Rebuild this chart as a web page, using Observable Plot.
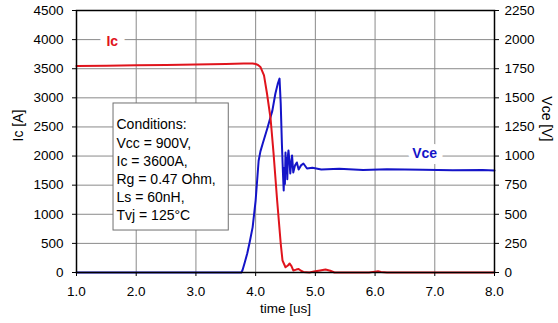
<!DOCTYPE html>
<html>
<head>
<meta charset="utf-8">
<script src="https://cdn.jsdelivr.net/npm/d3@7"></script>
<script src="https://cdn.jsdelivr.net/npm/@observablehq/plot@0.6"></script>
<style>
  html, body { margin: 0; padding: 0; background: white; }
</style>
</head>
<body>
<div id="chart"></div>
<script>
// ---- data ----
const xTicks = [1, 2, 3, 4, 5, 6, 7, 8];
const yTicksIc = [0, 500, 1000, 1500, 2000, 2500, 3000, 3500, 4000, 4500];
const yTicksVce = [0, 250, 500, 750, 1000, 1250, 1500, 1750, 2000, 2250];

const icTime = [1.0,1.5,2.0,2.5,3.0,3.5,3.8,3.95,4.0,4.04,4.08,4.14,4.19,4.25,4.30,4.36,4.42,4.45,4.50,4.54,4.57,4.60,4.63,4.68,4.72,4.76,4.80,4.9,5.0,5.08,5.17,5.25,5.32,5.5,5.9,6.0,6.05,6.1,6.2,8.0];
const icValue = [3545,3552,3558,3565,3572,3580,3590,3588,3580,3565,3530,3385,3075,2645,2045,1237,498,206,90,120,155,110,35,50,60,30,10,0,20,35,50,30,0,0,0,15,20,10,0,0];

const vceTime = [1.0,3.76,3.78,3.82,3.86,3.9,3.95,4.0,4.05,4.08,4.12,4.2,4.28,4.33,4.37,4.40,4.42,4.44,4.46,4.47,4.48,4.49,4.50,4.51,4.52,4.53,4.54,4.55,4.57,4.58,4.60,4.61,4.63,4.66,4.69,4.72,4.76,4.80,4.86,4.95,5.1,5.4,5.8,6.2,6.8,7.3,7.8,8.0];
const vceValue = [0,0,20,90,165,260,390,620,960,1040,1110,1245,1390,1535,1620,1665,1450,1100,820,704,900,760,1030,860,980,800,1000,1048,930,850,960,1005,859,920,945,885,920,936,893,900,885,892,880,886,882,878,880,876];

const conditionsText = ["Conditions:", "Vcc = 900V,", "Ic = 3600A,", "Rg = 0.47 Ohm,", "Ls = 60nH,", "Tvj = 125°C"];
const boxExtent = {x1: 1.62, x2: 3.55, y1: 721, y2: 2903};

const icData = icTime.map((t, i) => ({t, v: icValue[i]}));
const vceData = vceTime.map((t, i) => ({t, v: vceValue[i]}));

const red = "#e0141c";
const blue = "#1414c8";
const grid = "#8a8a8a";

const chart = Plot.plot({
  width: 558,
  height: 323,
  marginLeft: 76,
  marginRight: 64,
  marginTop: 10,
  marginBottom: 51,
  style: {fontFamily: "'Liberation Sans', Arial, sans-serif", fontSize: "14px", background: "white", color: "black", overflow: "visible"},
  x: {domain: [1, 8]},
  y: {domain: [0, 4500]},
  marks: [
    Plot.gridX(xTicks, {stroke: grid, strokeOpacity: 1}),
    Plot.gridY(yTicksIc, {stroke: grid, strokeOpacity: 1}),
    Plot.rect([boxExtent], {x1: "x1", x2: "x2", y1: "y1", y2: "y2", fill: "white", stroke: "#707070", strokeWidth: 1}),
    Plot.text([conditionsText.join("\n")], {frameAnchor: "top-left", dx: 40, dy: 106, textAnchor: "start", lineAnchor: "top", lineHeight: 1.3, fontSize: 14, fill: "black"}),
    Plot.line(vceData, {x: "t", y: d => d.v * 2, stroke: blue, strokeWidth: 2}),
    Plot.line(icData, {x: "t", y: "v", stroke: red, strokeWidth: 2}),
    Plot.text(["Ic"], {x: 1.6, y: 3960, fill: red, fontWeight: "bold", fontSize: 14, stroke: "white", strokeWidth: 14}),
    Plot.text(["Vce"], {x: 6.83, y: 2044, fill: blue, fontWeight: "bold", fontSize: 14, stroke: "white", strokeWidth: 12}),
    Plot.frame({stroke: "black", strokeWidth: 1.5}),
    Plot.axisX(xTicks, {tickSize: 4, tickPadding: 10, tickFormat: d3.format(".1f"), label: null, fontSize: 13.5}),
    Plot.axisY(yTicksIc, {anchor: "left", tickSize: 4, tickPadding: 9, tickFormat: d3.format("d"), label: null, fontSize: 13.5}),
    Plot.axisY(yTicksIc, {anchor: "right", tickSize: 4, tickPadding: 6, tickFormat: (d, i) => String(yTicksVce[i]), label: null, fontSize: 13.5}),
    Plot.text(["Ic [A]"], {frameAnchor: "left", dx: -58, rotate: -90, fontSize: 14}),
    Plot.text(["Vce [V]"], {frameAnchor: "right", dx: 52, rotate: 90, fontSize: 14}),
    Plot.text(["time [us]"], {frameAnchor: "bottom", dy: 40, fontSize: 13.5})
  ]
});
document.getElementById("chart").appendChild(chart);
</script>
</body>
</html>
